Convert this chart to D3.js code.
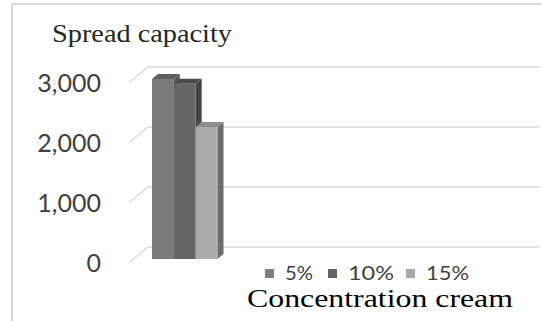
<!DOCTYPE html>
<html>
<head>
<meta charset="utf-8">
<script src="https://cdn.jsdelivr.net/npm/d3@7/dist/d3.min.js"></script>
<style>
  html, body { margin: 0; padding: 0; background: #fff; }
  svg { display: block; }
</style>
</head>
<body>
<svg id="chart" width="549" height="321"></svg>
<script>
// Spread capacity by cream concentration
const series = ["5%", "10%", "15%"];
const values = [3000, 2920, 2200];
const yTicks = [0, 1000, 2000, 3000];
const tickLabels = ["0", "1,000", "2,000", "3,000"];
const title = "Spread capacity";
const xTitle = "Concentration cream";

const frontColors = ["#7b7b7b", "#656565", "#ababab"];
const topColors   = ["#5e5e5e", "#4b4b4b", "#8e8e8e"];
const sideColors  = ["#585858", "#444444", "#6c6c6c"];
const legendColors = ["#7f7f7f", "#646464", "#a8a8a8"];

const svg = d3.select("#chart");
const W = 549, H = 321;

// outer frame (top and left edges visible)
svg.append("line").attr("x1", 12).attr("y1", 4).attr("x2", 541).attr("y2", 4)
  .attr("stroke", "#d9d9d9").attr("stroke-width", 2);
svg.append("line").attr("x1", 12).attr("y1", 4).attr("x2", 12).attr("y2", H)
  .attr("stroke", "#d9d9d9").attr("stroke-width", 2);

// 3D geometry: front plane scale, back-wall offset, bar offsets
const y = d3.scaleLinear().domain([0, 3000]).range([262.5, 82.5]);
const wall = { dx: 19, dy: -15.5 };
const frontX = 129, rightX = 540;
const barShift = { dx: 4, dy: -3.5 };
const depth = { dx: 6, dy: -5 };

// gridlines: diagonal floor/side lines plus back-wall horizontals
const grid = svg.append("g");
yTicks.forEach(t => {
  const yf = y(t);
  grid.append("path")
    .attr("d", `M${frontX},${yf}L${frontX + wall.dx},${yf + wall.dy}L${rightX},${yf + wall.dy}`)
    .attr("fill", "none").attr("stroke", "#d9d9d9").attr("stroke-width", 1.3);
});

// y tick labels
svg.append("g").selectAll("text").data(yTicks).join("text")
  .attr("x", 101).attr("y", d => y(d))
  .attr("dy", "0.36em")
  .attr("text-anchor", "end")
  .attr("font-family", "Lato, 'Open Sans', sans-serif")
  .attr("font-size", 25)
  .attr("fill", "#404040")
  .text((d, i) => tickLabels[i]);

// bars
const x = d3.scaleBand().domain(series).range([148, 213.5]).padding(0);
const bars = svg.append("g");
series.forEach((s, i) => {
  const x0 = x(s) + barShift.dx, x1 = x0 + x.bandwidth();
  const yt = y(values[i]) + barShift.dy, yb = y(0) + barShift.dy;
  const g = bars.append("g");
  // right side
  g.append("path")
    .attr("d", `M${x1},${yt}L${x1 + depth.dx},${yt + depth.dy}L${x1 + depth.dx},${yb + depth.dy}L${x1},${yb}Z`)
    .attr("fill", sideColors[i]);
  // top
  g.append("path")
    .attr("d", `M${x0},${yt}L${x0 + depth.dx},${yt + depth.dy}L${x1 + depth.dx},${yt + depth.dy}L${x1},${yt}Z`)
    .attr("fill", topColors[i]);
  // front
  g.append("rect")
    .attr("x", x0).attr("y", yt)
    .attr("width", x.bandwidth()).attr("height", yb - yt)
    .attr("fill", frontColors[i]);
});

// title
svg.append("text")
  .attr("x", 52).attr("y", 42)
  .attr("font-family", "'Liberation Serif', 'Times New Roman', serif")
  .attr("font-size", 25)
  .attr("textLength", 180).attr("lengthAdjust", "spacingAndGlyphs")
  .attr("fill", "#262626")
  .text(title);

// legend
const legendX = [265, 328, 406];
const legendW = [28, 46, 43];
const lg = svg.append("g");
series.forEach((s, i) => {
  lg.append("rect").attr("x", legendX[i]).attr("y", 269).attr("width", 9).attr("height", 9)
    .attr("fill", legendColors[i]);
  lg.append("text").attr("x", legendX[i] + 20).attr("y", 280)
    .attr("font-family", "Lato, 'Open Sans', sans-serif")
    .attr("font-size", 20)
    .attr("textLength", legendW[i]).attr("lengthAdjust", "spacingAndGlyphs")
    .attr("fill", "#404040")
    .text(s);
});

// x-axis title
svg.append("text")
  .attr("x", 247).attr("y", 307)
  .attr("font-family", "'Liberation Serif', 'Times New Roman', serif")
  .attr("font-size", 25)
  .attr("textLength", 266).attr("lengthAdjust", "spacingAndGlyphs")
  .attr("fill", "#000")
  .text(xTitle);
</script>
</body>
</html>
